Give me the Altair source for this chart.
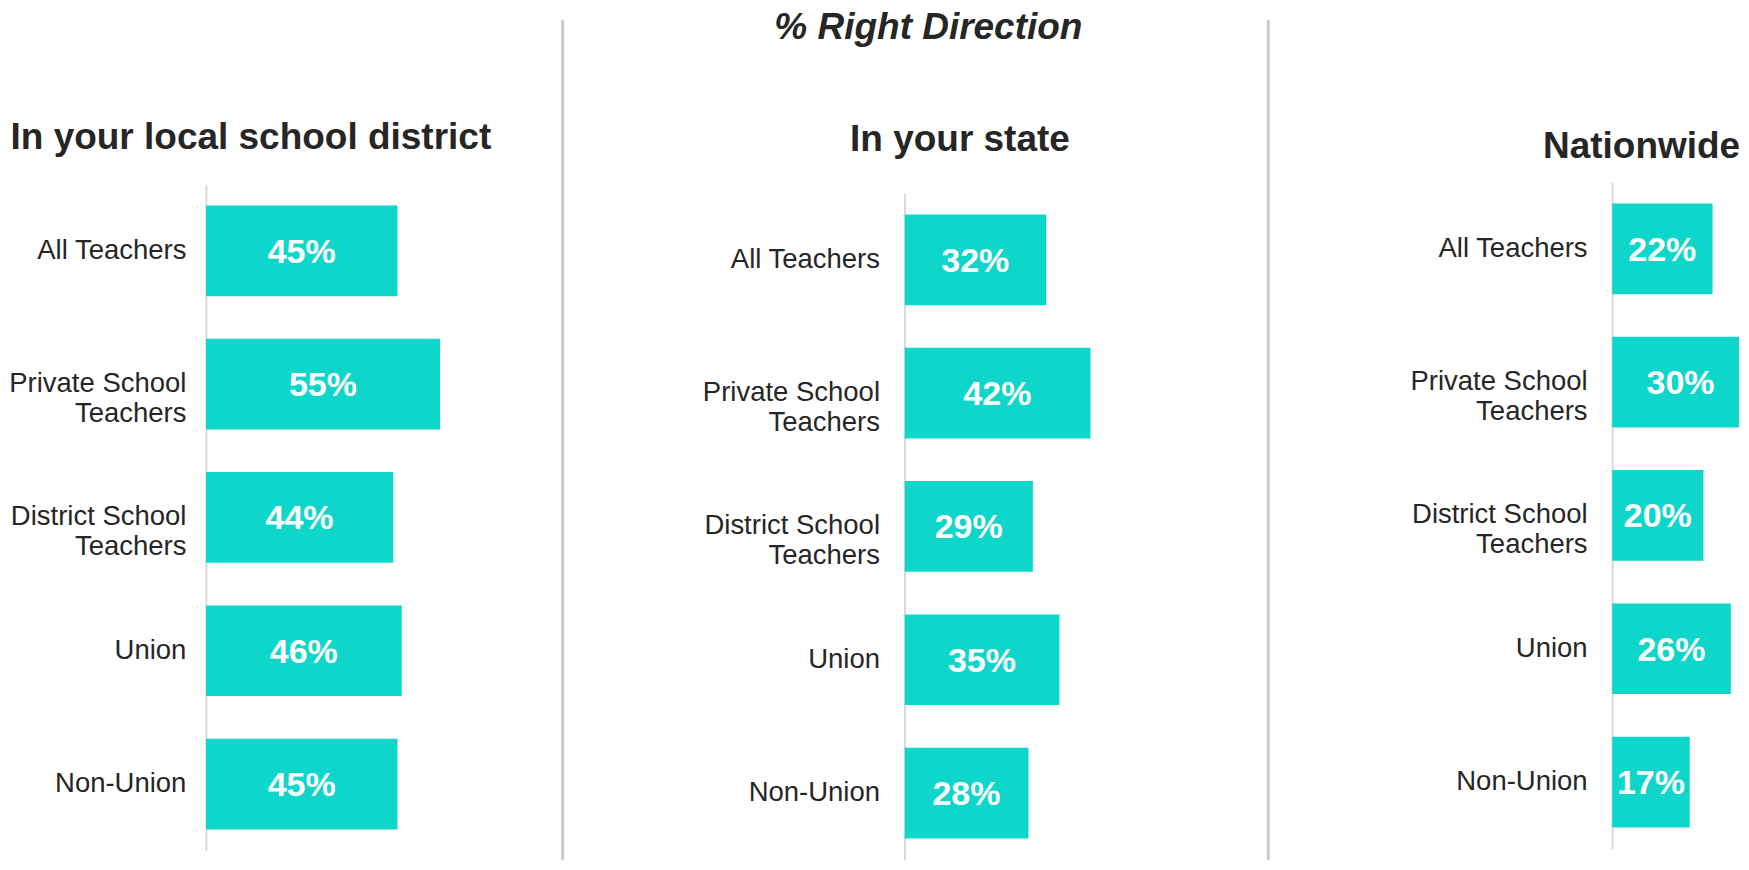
import altair as alt
import pandas as pd

# ---- data ----
categories = ["All Teachers", "Private School|Teachers", "District School|Teachers", "Union", "Non-Union"]
local_vals = [45, 55, 44, 46, 45]
state_vals = [32, 42, 29, 35, 28]
national_vals = [22, 30, 20, 26, 17]
panel_titles = ["In your local school district", "In your state", "Nationwide"]
main_title = "% Right Direction"

BAR = "#0FD6CB"
FONT = "Liberation Sans"
TXT = "#262626"
SEP = "#C8C8C8"
H = 667


def panel(vals, title, width, xmax, title_dx, title_offset, label_pad, yrange, sep_x=None):
    df = pd.DataFrame({"category": categories, "value": vals})
    base = alt.Chart(df).transform_calculate(
        label="datum.value + '%'", mid="datum.value / 2"
    )
    yscale = alt.Scale(paddingInner=0.32, paddingOuter=0.16, range=yrange)
    y = alt.Y(
        "category:N",
        sort=categories,
        scale=yscale,
        axis=alt.Axis(
            title=None,
            labelExpr="split(datum.label, '|')",
            labelFont=FONT,
            labelFontSize=27.5,
            labelColor=TXT,
            labelPadding=label_pad,
            labelLineHeight=30,
            labelLimit=400,
            ticks=False,
            grid=False,
            domainColor="#D9D9D9",
            domainWidth=2,
        ),
    )
    x = alt.X("value:Q", scale=alt.Scale(domain=[0, xmax], nice=False), axis=None)
    bars = base.mark_bar(color=BAR, clip=True).encode(x=x, y=y)
    text = base.mark_text(
        color="white", font=FONT, fontWeight="bold", fontSize=34,
        align="center", baseline="middle", dy=2,
    ).encode(x="mid:Q", y=alt.Y("category:N", sort=categories), text="label:N")
    layers = [bars, text]
    if sep_x is not None:
        sep = alt.Chart(pd.DataFrame({"s": [0]})).mark_rule(
            color=SEP, strokeWidth=3
        ).encode(x=alt.value(sep_x), y=alt.value(-164), y2=alt.value(676))
        layers.append(sep)
    return alt.layer(*layers).properties(
        width=width,
        height=H,
        title=alt.TitleParams(
            title, font=FONT, fontSize=37, fontWeight="bold", color=TXT,
            anchor="middle", frame="group", dx=title_dx, offset=title_offset,
        ),
    )


p1 = panel(local_vals, panel_titles[0], 300, 300 / 4.26, -105, -138, 20, [0, H], sep_x=357)
p2 = panel(state_vals, panel_titles[1], 309, 309 / 4.43, -99, -140, 25, [9, H + 9], sep_x=364)
p3 = panel(national_vals, panel_titles[2], 127, 127 / 4.57, -34, 18, 25, [-2, H - 2])

chart = alt.hconcat(p1, p2, p3, spacing=399, bounds="flush").properties(
    title=alt.TitleParams(
        main_title, font=FONT, fontSize=37, fontWeight="bold", fontStyle="italic",
        color=TXT, anchor="middle", dx=54, offset=-28,
    ),
    padding={"left": 0, "top": 0, "right": 0, "bottom": 0},
).configure(background="white").configure_view(strokeWidth=0, stroke="transparent")

chart.save("out.html", embed_options={"renderer": "svg", "actions": False})
